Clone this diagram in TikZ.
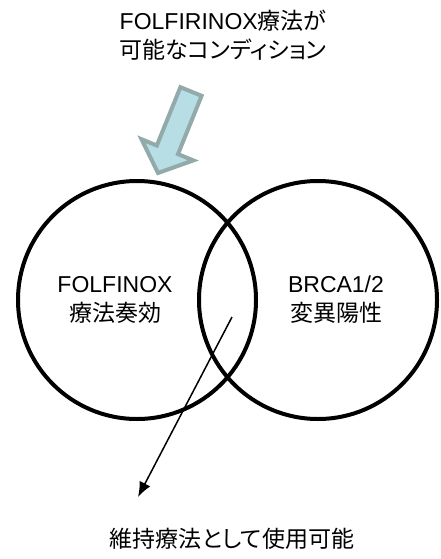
\documentclass[tikz,border=0pt]{standalone}
\usepackage{fontspec}
\setmainfont{Liberation Sans}
\newfontfamily\jp[RawFeature={+palt}]{Noto Sans CJK JP}
\usepackage{tikz}
\usetikzlibrary{arrows.meta}
\definecolor{arrowfill}{RGB}{183,222,228}
\definecolor{arrowedge}{RGB}{146,170,170}

\begin{document}
\begin{tikzpicture}[x=1pt,y=-1pt,
	venn/.style = {circle, draw, line width = 4pt, minimum size = 238pt, inner sep = 0pt},
	lbl/.style = {align = center, inner sep = 0pt, font = \fontsize{23}{29}\selectfont}]
	\useasboundingbox (0,0) rectangle (440,559);
	\node[lbl] (cond) at (223,35) {FOLFIRINOX{\jp 療法が}\\{\jp 可能なコンディション}};
	\filldraw[fill = arrowfill, draw = arrowedge, line width = 4pt, line join = miter]
		(180.4,87.2) -- (201.6,95.8) -- (178.0,154.1) -- (193.3,160.4)
		-- (158,173) -- (141.5,139.2) -- (156.8,145.5) -- cycle;
	\node[venn] (folf) at (137,300) {};
	\node[venn] (brca) at (318,300) {};
	\node[lbl] (folftxt) at (115,300) {FOLFINOX\\{\jp 療法奏効}};
	\node[lbl] (brcatxt) at (336,300) {BRCA1/2\\{\jp 変異陽性}};
	\coordinate (both) at (232,317);
	\coordinate (tip) at (138,497);
	\draw[line width = 1.5pt, -{Latex[length = 15pt, width = 12pt]}] (both) -- (tip);
	\node[lbl] (maint) at (232,539) {\jp 維持療法として使用可能};
\end{tikzpicture}
\end{document}
